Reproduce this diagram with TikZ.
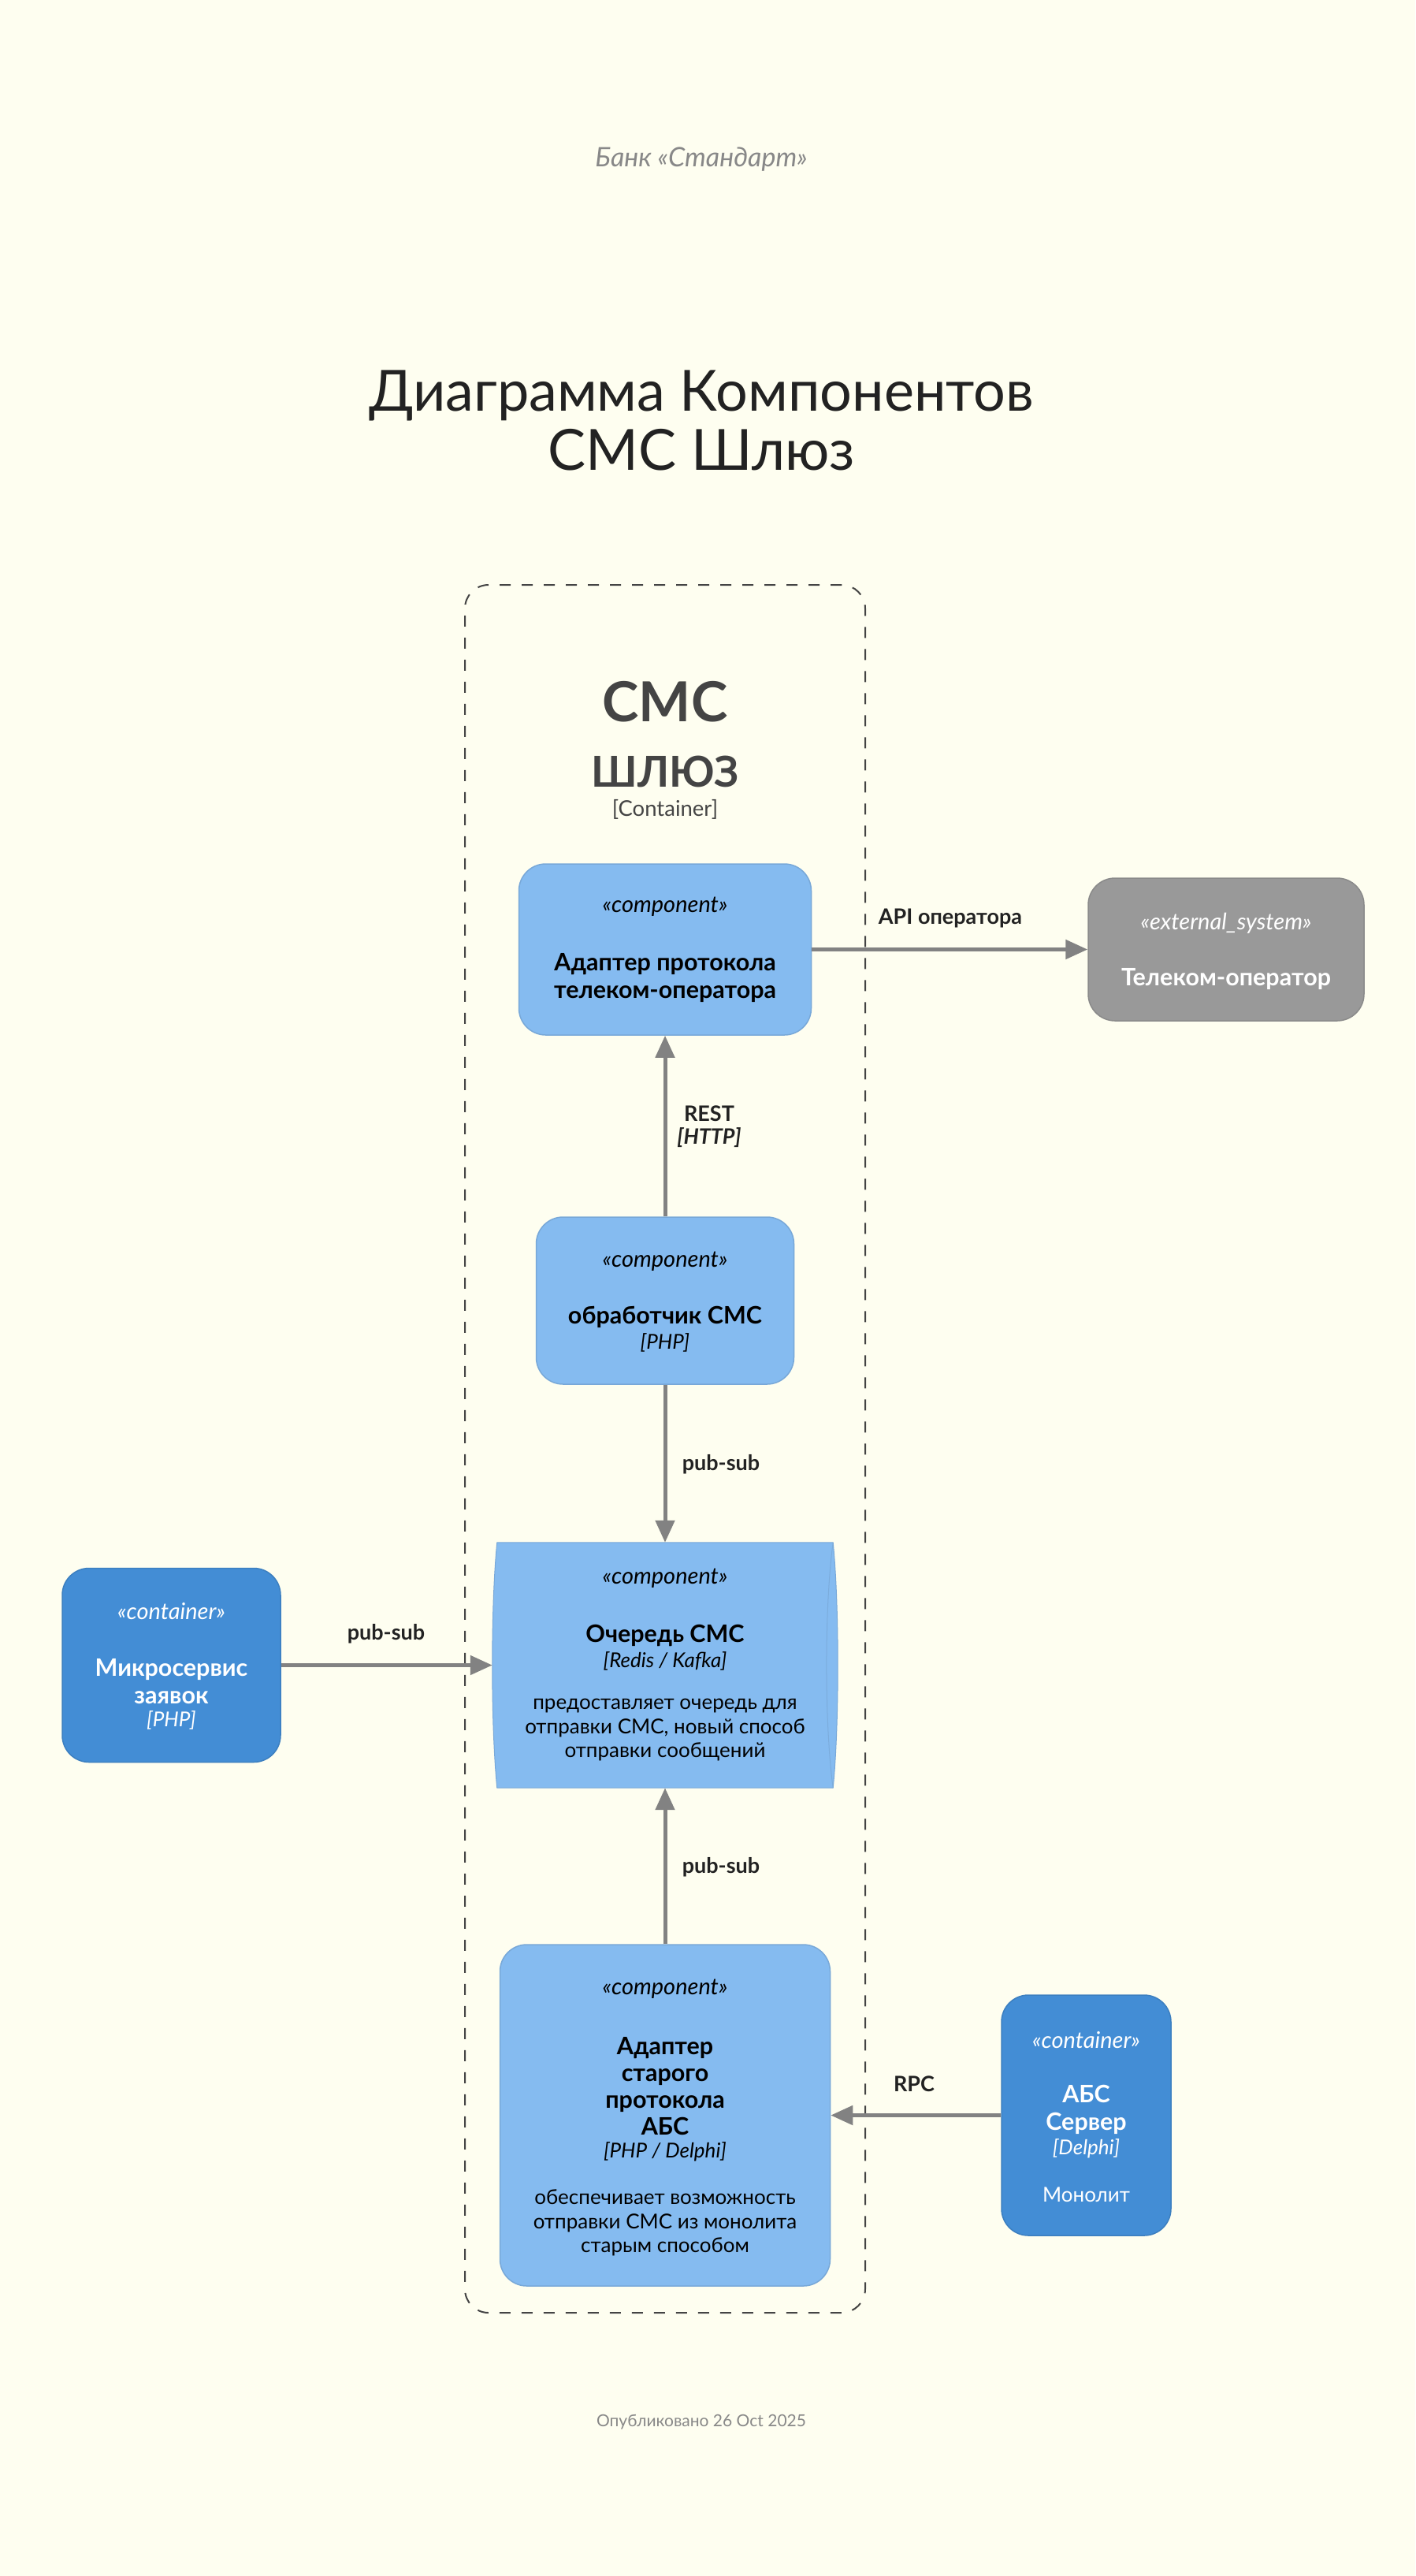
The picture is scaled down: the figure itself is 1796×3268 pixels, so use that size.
\documentclass[tikz,border=0pt]{standalone}
\usepackage{fontspec}
\setmainfont{Lato}
\usetikzlibrary{arrows.meta,calc}
\definecolor{bgc}{HTML}{FEFEF0}
\definecolor{compFill}{HTML}{85BBF0}
\definecolor{compBorder}{HTML}{78A8D8}
\definecolor{contFill}{HTML}{438DD5}
\definecolor{contBorder}{HTML}{3C7FC0}
\definecolor{extFill}{HTML}{999999}
\definecolor{extBorder}{HTML}{8A8A8A}
\definecolor{relGray}{HTML}{828282}
\definecolor{boundGray}{HTML}{444444}
\definecolor{titleGray}{HTML}{222222}
\definecolor{softGray}{HTML}{888888}
\newcommand\myfs[2]{\fontsize{#1pt}{#2pt}\selectfont}
\begin{document}
\begin{tikzpicture}[x=1pt,y=-1pt,
  box/.style={inner sep=0pt, line width=1.5pt, rounded corners=34pt},
  comp/.style={box, draw=compBorder, fill=compFill},
  cont/.style={box, draw=contBorder, fill=contFill},
  ext/.style={box, draw=extBorder, fill=extFill},
  boundary/.style={draw=boundGray, line width=2pt, dash pattern=on 14pt off 14pt, rounded corners=30pt, inner sep=0pt},
  rel/.style={draw=relGray, line width=5pt, -{Triangle[length=28pt,width=24pt]}},
  txt/.style={inner sep=0pt, align=center},
  stereo/.style={txt, font=\myfs{29}{32}\itshape},
  ttl/.style={txt, font=\myfs{30.5}{35}\bfseries},
  tech/.style={txt, font=\myfs{26}{30}\itshape},
  desc/.style={txt, font=\myfs{26}{30.5}},
  lbl/.style={txt, font=\myfs{27}{29}\bfseries, text=titleGray},
  white/.style={text=white}
]
\fill[bgc] (0,0) rectangle (1796,3268);
\useasboundingbox (0,0) rectangle (1796,3268);

% header and title
\node[txt, font=\myfs{34}{38}\itshape, text=softGray] (bank) at (890,202) {Банк «Стандарт»};
\node[txt, font=\myfs{72}{75}, text=titleGray] (title) at (890,533) {Диаграмма Компонентов\\СМС Шлюз};

% boundary
\node[boundary, minimum width=508pt, minimum height=2192pt] (gw) at (844,1838) {};
\node[txt, font=\myfs{70}{74}\bfseries, text=boundGray] (gwA) at (844,890) {СМС};
\node[txt, font=\myfs{54}{60}\bfseries, text=boundGray] (gwB) at (844,979) {ШЛЮЗ};
\node[txt, font=\myfs{27.5}{30}, text=boundGray] (gwC) at (844,1027) {[Container]};

% component 1
\node[comp, minimum width=371pt, minimum height=217pt] (c1) at (844,1204.5) {};
\node[stereo] (c1s) at (844,1150) {«component»};
\node[ttl] (c1t) at (844,1240.5) {Адаптер протокола\\телеком-оператора};

% telecom operator
\node[ext, minimum width=350pt, minimum height=181pt] (tel) at (1556,1204.5) {};
\node[stereo, white] (tels) at (1556,1171) {«external\_system»};
\node[ttl, white] (telt) at (1556,1242) {Телеком-оператор};

% component 2
\node[comp, minimum width=327pt, minimum height=212pt] (c2) at (844,1650) {};
\node[stereo] (c2s) at (844,1600) {«component»};
\node[ttl] (c2t) at (844,1671) {обработчик СМС};
\node[tech] (c2k) at (844,1703) {[PHP]};

% queue
\node[inner sep=0pt, minimum width=438pt, minimum height=311pt] (q) at (844,2112.5) {};
\filldraw[fill=compFill, draw=compBorder, line width=1pt]
  ($(q.north west)+(6,0)$) -- ($(q.north east)+(-6,0)$)
  .. controls ($(q.north east)+(2,80)$) and ($(q.south east)+(2,-80)$) .. ($(q.south east)+(-6,0)$)
  -- ($(q.south west)+(6,0)$)
  .. controls ($(q.south west)+(-2,-80)$) and ($(q.north west)+(-2,80)$) .. cycle;
\draw[compBorder!80!compFill, line width=1pt]
  ($(q.north east)+(-6,0)$) .. controls ($(q.north east)+(-17,80)$) and ($(q.south east)+(-17,-80)$) .. ($(q.south east)+(-6,0)$);
\node[stereo] (qs) at (844,2002) {«component»};
\node[ttl] (qt) at (844,2075) {Очередь СМС};
\node[tech] (qk) at (844,2107) {[Redis / Kafka]};
\node[desc] (qd) at (844,2195) {предоставляет очередь для\\отправки СМС, новый способ\\отправки сообщений};

% microservice
\node[cont, minimum width=277pt, minimum height=246pt] (ms) at (217.5,2112.5) {};
\node[stereo, white] (mss) at (217.5,2044) {«container»};
\node[ttl, white] (mst) at (217.5,2133.5) {Микросервис\\заявок};
\node[tech, white] (msk) at (217.5,2182) {[PHP]};

% component 4
\node[comp, minimum width=419pt, minimum height=433pt] (c4) at (844,2683.5) {};
\node[stereo] (c4s) at (844,2523) {«component»};
\node[ttl, font=\myfs{30.5}{34}\bfseries] (c4t) at (844,2647) {Адаптер\\старого\\протокола\\АБС};
\node[tech] (c4k) at (844,2730) {[PHP / Delphi]};
\node[desc] (c4d) at (844,2820) {обеспечивает возможность\\отправки СМС из монолита\\старым способом};

% ABS server
\node[cont, minimum width=215pt, minimum height=305pt] (abs) at (1378.5,2683.5) {};
\node[stereo, white] (abss) at (1378.5,2588) {«container»};
\node[ttl, white] (abst) at (1378.5,2676.5) {АБС\\Сервер};
\node[tech, white] (absk) at (1378.5,2726) {[Delphi]};
\node[desc, white] (absd) at (1378.5,2784) {Монолит};

% relations
\draw[rel] (c1) -- (tel);
\draw[rel] (c2) -- (c1);
\draw[rel] (c2) -- (q);
\draw[rel] (ms) -- (q);
\draw[rel] (c4) -- (q);
\draw[rel] (abs) -- (c4);

% relation labels
\node[lbl] (l1) at (1206,1165) {API оператора};
\node[lbl] (l2) at (900,1429.5) {REST\\\itshape [HTTP]};
\node[lbl] (l3) at (915,1858) {pub-sub};
\node[lbl] (l4) at (490,2073) {pub-sub};
\node[lbl] (l5) at (915,2369) {pub-sub};
\node[lbl] (l6) at (1160,2644) {RPC};

% footer
\node[txt, font=\myfs{21}{25}, text=softGray] (foot) at (890,3073) {Опубликовано 26 Oct 2025};
\end{tikzpicture}
\end{document}
